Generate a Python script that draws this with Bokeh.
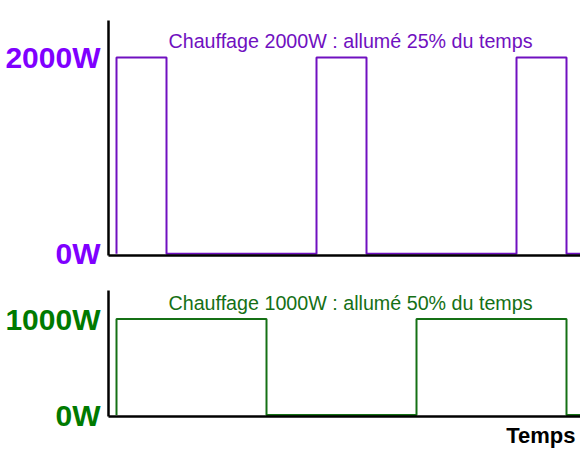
from bokeh.plotting import figure
from bokeh.models import Range1d, FixedTicker, Label, Title
from bokeh.layouts import column
from bokeh.embed import file_html
from bokeh.resources import INLINE

# ---- data ----
time_purple = [0, 0, 1, 4, 5, 8, 9, 9.6]
power_purple = [0, 2000, 0, 2000, 0, 2000, 0, 0]
time_green = [0, 0, 3, 6, 9, 9.6]
power_green = [0, 1000, 0, 1000, 0, 0]
ticks_top = [0, 2000]
labels_top = {0: "0W", 2000: "2000W"}
ticks_bottom = [0, 1000]
labels_bottom = {0: "0W", 1000: "1000W"}
title_top = "Chauffage 2000W : allumé 25% du temps"
title_bottom = "Chauffage 1000W : allumé 50% du temps"
xlabel = "Temps"

PURPLE_LABEL = "#7f00ff"
PURPLE_LINE = "#7010c0"
GREEN_LABEL = "#007a00"
GREEN_LINE = "#157015"
FONT = "Liberation Sans"

x_range = Range1d(-0.16, 9.28)


def style(p, ticks, overrides, color):
    p.xgrid.visible = False
    p.ygrid.visible = False
    p.outline_line_color = None
    p.background_fill_color = "white"
    p.border_fill_color = "white"
    ya = p.yaxis[0]
    ya.ticker = FixedTicker(ticks=ticks)
    ya.major_label_overrides = overrides
    ya.major_tick_line_color = None
    ya.minor_tick_line_color = None
    ya.major_tick_out = 0
    ya.major_tick_in = 0
    ya.axis_line_color = "black"
    ya.axis_line_width = 2.5
    ya.major_label_text_font = FONT
    ya.major_label_text_font_style = "bold"
    ya.major_label_text_font_size = "30px"
    ya.major_label_text_color = color
    ya.major_label_standoff = 8
    xa = p.xaxis[0]
    xa.ticker = FixedTicker(ticks=[])
    xa.major_tick_line_color = None
    xa.minor_tick_line_color = None
    xa.major_tick_out = 0
    xa.major_tick_in = 0
    xa.major_label_standoff = 0
    xa.axis_line_color = "black"
    xa.axis_line_width = 2.5


p1 = figure(frame_width=472, frame_height=235, x_range=x_range,
            y_range=Range1d(-18.4, 2378), output_backend="svg",
            toolbar_location=None, min_border_left=108, min_border_right=0,
            min_border_top=20, min_border_bottom=17)
style(p1, ticks_top, labels_top, PURPLE_LABEL)
p1.step(time_purple, power_purple, mode="after", line_color=PURPLE_LINE, line_width=2)
p1.add_layout(Label(x=4.68, y=2173, text=title_top, text_align="center",
                    text_baseline="alphabetic", text_font=FONT,
                    text_font_size="19.7px", text_color=PURPLE_LINE))

p2 = figure(frame_width=472, frame_height=126, x_range=x_range,
            y_range=Range1d(-15.6, 1297), output_backend="svg",
            toolbar_location=None, min_border_left=108, min_border_right=0,
            min_border_top=18, min_border_bottom=48)
style(p2, ticks_bottom, labels_bottom, GREEN_LABEL)
p2.step(time_green, power_green, mode="after", line_color=GREEN_LINE, line_width=2)
p2.add_layout(Label(x=4.68, y=1171, text=title_bottom, text_align="center",
                    text_baseline="alphabetic", text_font=FONT,
                    text_font_size="19.7px", text_color=GREEN_LINE))
p2.add_layout(Title(text=xlabel, align="right", text_font=FONT,
                    text_font_style="bold", text_font_size="22px",
                    text_color="black", offset=5, standoff=9), "below")

layout = column(p1, p2, spacing=0)
open("out.html", "w").write(file_html(layout, INLINE))
